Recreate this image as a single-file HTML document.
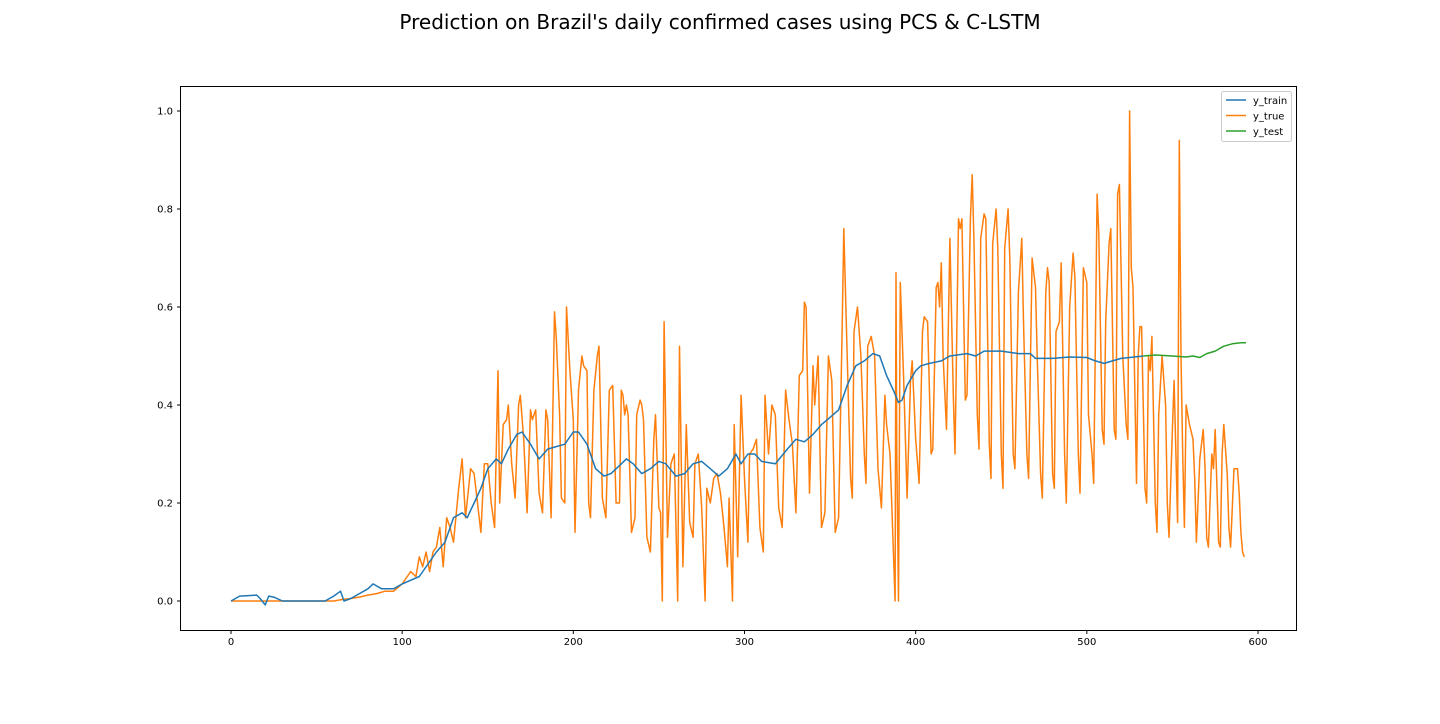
<!DOCTYPE html>
<html><head><meta charset="utf-8"><style>
body{margin:0;background:#fff;width:1440px;height:720px;overflow:hidden;font-family:"DejaVu Sans","Liberation Sans",sans-serif}
svg text{font-family:"DejaVu Sans","Liberation Sans",sans-serif}
</style></head><body>
<svg id="chart" width="1440" height="720" xmlns="http://www.w3.org/2000/svg">
<text x="720" y="29" font-size="20" text-anchor="middle" fill="#000">Prediction on Brazil's daily confirmed cases using PCS &amp; C-LSTM</text>
<rect x="180.5" y="86.5" width="1116" height="544" fill="none" stroke="#000" stroke-width="1"/>
<g id="axes"></g>
<g id="series"></g>
<g>
<rect x="1221.5" y="91.5" width="70" height="50" rx="2" fill="#fff" stroke="#ccc"/>
<line x1="1226" y1="100" x2="1246" y2="100" stroke="#1f77b4" stroke-width="1.5"/>
<text x="1253" y="104" font-size="10">y_train</text>
<line x1="1226" y1="115.5" x2="1246" y2="115.5" stroke="#ff7f0e" stroke-width="1.5"/>
<text x="1253" y="119.5" font-size="10">y_true</text>
<line x1="1226" y1="131" x2="1246" y2="131" stroke="#2ca02c" stroke-width="1.5"/>
<text x="1253" y="135" font-size="10">y_test</text>
</g>
</svg>
<script>
const xTicks=[0,100,200,300,400,500,600];
const yTicks=[0.0,0.2,0.4,0.6,0.8,1.0];
const yTickLabels=["0.0","0.2","0.4","0.6","0.8","1.0"];
const trueDays=[0,60,65,70,75,80,85,90,95,100,103,105,108,110,112,114,116,118,120,122,124,126,128,130,133,135,137,140,142,144,146,148,150,152,154,156,157,159,161,162,164,166,168,169,171,173,175,176,178,180,182,184,185,187,189,190,192,193,195,196,198,200,201,203,205,206,208,209,210,212,214,215,217,219,221,223,225,227,228,229,230,231,232,234,236,237,239,240,241,243,245,247,248,250,251,252,253,255,257,259,261,262,264,266,268,270,271,273,275,277,278,280,282,284,286,288,290,291,293,294,296,298,300,302,303,305,307,309,311,312,314,316,318,320,322,324,326,328,330,332,334,335,336,338,340,341,343,345,347,349,351,353,355,357,358,360,362,363,364,366,368,370,371,372,374,376,378,380,382,383,385,388,388.5,389,390,391,393,395,397,398,400,402,404,405,407,409,410,412,413,414,415,416,418,420,422,423,425,426,427,429,430,432,433,434,436,437,438,440,441,443,444,445,447,448,450,451,452,454,455,457,458,460,462,463,465,466,468,470,471,473,474,476,477,478,480,481,482,484,485,487,488,490,492,493,495,496,498,500,501,503,504,506,507,509,510,511,513,514,516,517,518,519,521,523,524,525,526,527,529,530,531,532,534,535,536,537,538,540,541,542,544,546,547,548,550,551,553,554,555,556,557,558,560,562,563,564,566,568,569,570,571,573,574,575,577,578,579,580,582,583,584,586,588,589,590,591,592];
const trueVals=[0,0,0.003,0.005,0.008,0.012,0.015,0.02,0.02,0.035,0.05,0.06,0.05,0.09,0.07,0.1,0.06,0.1,0.11,0.15,0.07,0.17,0.15,0.12,0.23,0.29,0.17,0.27,0.26,0.2,0.14,0.28,0.28,0.2,0.15,0.47,0.2,0.36,0.37,0.4,0.28,0.21,0.4,0.42,0.33,0.18,0.39,0.37,0.39,0.22,0.18,0.39,0.37,0.17,0.59,0.54,0.38,0.21,0.2,0.6,0.47,0.37,0.14,0.43,0.5,0.48,0.47,0.2,0.17,0.43,0.5,0.52,0.21,0.17,0.43,0.44,0.2,0.2,0.43,0.42,0.38,0.4,0.38,0.14,0.17,0.38,0.41,0.4,0.37,0.13,0.1,0.33,0.38,0.19,0.18,0.0,0.57,0.13,0.28,0.3,0.0,0.52,0.07,0.36,0.16,0.13,0.28,0.3,0.19,0.0,0.23,0.2,0.25,0.26,0.22,0.15,0.07,0.21,0.0,0.36,0.09,0.42,0.25,0.12,0.3,0.31,0.33,0.15,0.1,0.42,0.3,0.4,0.38,0.19,0.15,0.43,0.37,0.32,0.18,0.46,0.47,0.61,0.6,0.22,0.48,0.4,0.5,0.15,0.18,0.5,0.45,0.14,0.17,0.55,0.76,0.5,0.25,0.21,0.55,0.6,0.5,0.3,0.24,0.52,0.54,0.5,0.27,0.19,0.42,0.36,0.3,0.0,0.67,0.3,0.0,0.65,0.45,0.21,0.45,0.49,0.33,0.24,0.55,0.58,0.57,0.3,0.31,0.64,0.65,0.6,0.69,0.5,0.35,0.74,0.42,0.3,0.78,0.76,0.78,0.41,0.42,0.78,0.87,0.74,0.38,0.31,0.74,0.79,0.78,0.32,0.25,0.73,0.8,0.72,0.3,0.23,0.72,0.8,0.7,0.3,0.27,0.63,0.74,0.57,0.3,0.25,0.7,0.64,0.5,0.26,0.21,0.63,0.68,0.65,0.26,0.23,0.55,0.57,0.69,0.3,0.2,0.6,0.71,0.66,0.3,0.22,0.68,0.65,0.38,0.3,0.24,0.83,0.75,0.35,0.32,0.57,0.73,0.76,0.35,0.33,0.83,0.85,0.5,0.36,0.33,1.0,0.68,0.64,0.24,0.5,0.56,0.56,0.23,0.2,0.5,0.47,0.54,0.2,0.14,0.38,0.5,0.4,0.2,0.13,0.35,0.45,0.16,0.94,0.5,0.3,0.15,0.4,0.36,0.33,0.25,0.12,0.29,0.35,0.28,0.13,0.11,0.3,0.27,0.35,0.12,0.11,0.3,0.36,0.26,0.15,0.11,0.27,0.27,0.22,0.14,0.1,0.09];
const trainDays=[0,5,15,17,20,22,25,30,55,60,64,66,70,75,80,83,88,95,100,110,120,125,130,135,138,142,146,150,155,158,162,167,170,175,180,185,190,195,200,203,208,213,218,222,228,231,235,240,245,250,254,260,265,270,275,280,285,290,295,298,302,306,310,318,325,330,335,340,345,350,355,360,365,370,375,379,383,387,390,392,395,400,403,408,415,420,430,435,440,450,460,467,470,480,490,500,505,510,515,520,525,533];
const trainVals=[0,0.01,0.012,0.005,-0.008,0.01,0.008,0,0,0.01,0.02,0,0.005,0.015,0.025,0.035,0.025,0.025,0.035,0.05,0.1,0.12,0.17,0.18,0.17,0.2,0.23,0.27,0.29,0.28,0.31,0.34,0.345,0.32,0.29,0.31,0.315,0.32,0.345,0.345,0.32,0.27,0.255,0.26,0.28,0.29,0.28,0.26,0.27,0.285,0.28,0.255,0.26,0.28,0.285,0.27,0.255,0.27,0.3,0.28,0.3,0.3,0.285,0.28,0.31,0.33,0.325,0.34,0.36,0.375,0.39,0.44,0.48,0.49,0.505,0.5,0.46,0.43,0.405,0.41,0.44,0.47,0.48,0.485,0.49,0.5,0.505,0.5,0.51,0.51,0.505,0.505,0.495,0.495,0.498,0.497,0.49,0.485,0.49,0.495,0.497,0.5];
const testDays=[533,540,550,558,562,566,570,575,580,585,590,593];
const testVals=[0.5,0.502,0.5,0.498,0.5,0.497,0.505,0.51,0.52,0.525,0.527,0.527];

const NS="http://www.w3.org/2000/svg";
const X=d=>231+d*(1258-231)/600;
const Y=v=>601-v*490;
const axes=document.getElementById('axes');
const series=document.getElementById('series');
function mk(tag,attrs,parent){const e=document.createElementNS(NS,tag);for(const k in attrs)e.setAttribute(k,attrs[k]);parent.appendChild(e);return e;}
xTicks.forEach(t=>{
  const g=mk('g',{},axes);
  
  
  mk('line',{x1:X(t),x2:X(t),y1:630.5,y2:634,stroke:'#000'},g);
  const tx=mk('text',{x:X(t),y:645,'font-size':10,'text-anchor':'middle'},g);tx.textContent=String(t);
});
yTicks.forEach((t,i)=>{
  const g=mk('g',{},axes);
  
  
  mk('line',{x1:177,x2:180.5,y1:Y(t),y2:Y(t),stroke:'#000'},g);
  const tx=mk('text',{x:173,y:Y(t)+3.5,'font-size':10,'text-anchor':'end'},g);tx.textContent=yTickLabels[i];
});
function line(days,vals,color,name){
  const p=mk('polyline',{points:days.map((d,i)=>X(d).toFixed(1)+','+Y(vals[i]).toFixed(1)).join(' '),fill:'none',stroke:color,'stroke-width':1.5,'stroke-linejoin':'round'},series);
  
  
}
line(trueDays,trueVals,'#ff7f0e','y-true-line');
line(trainDays,trainVals,'#1f77b4','y-train-line');
line(testDays,testVals,'#2ca02c','y-test-line');
</script>
</body></html>
